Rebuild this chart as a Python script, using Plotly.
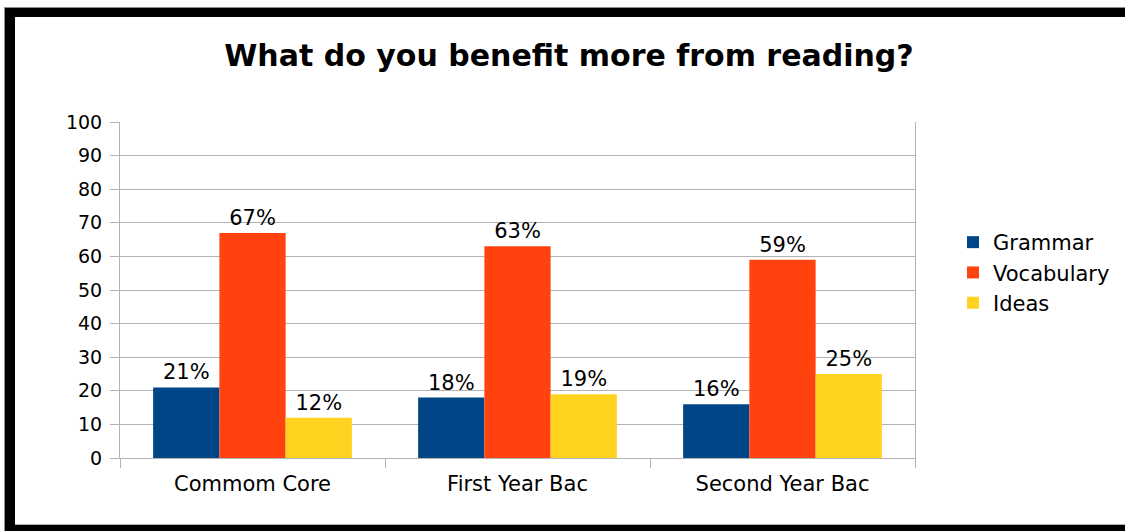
import plotly.graph_objects as go

# Survey results: share of students per benefit, by school level
categories = ["Commom Core", "First Year Bac", "Second Year Bac"]
grammar = [21, 18, 16]
vocabulary = [67, 63, 59]
ideas = [12, 19, 25]

series = [
    ("Grammar", grammar, "#004586"),
    ("Vocabulary", vocabulary, "#ff420e"),
    ("Ideas", ideas, "#ffd320"),
]

W, H = 1125, 531
L, R, T, B = 120, 210, 122, 73
FONT = "DejaVu Sans, Verdana, sans-serif"

fig = go.Figure()
for name, vals, color in series:
    fig.add_trace(go.Bar(
        name=name,
        x=categories,
        y=vals,
        marker=dict(color=color, line=dict(width=0)),
        text=[f"{v}%" for v in vals],
        textposition="outside",
        textfont=dict(family=FONT, size=21, color="#000000"),
        cliponaxis=False,
    ))


def px_x(p):
    return (p - L) / (W - L - R)


def px_y(p):
    return (H - B - p) / (H - T - B)


# Frame around the chart: thin grey edge plus heavy black band
frame = [
    # grey hairlines
    (4, 7, W + 5, 8, "#8c8c8c"),
    (4, 7, 5, H + 5, "#8c8c8c"),
    (15, 524, W + 5, 525, "#b0b0b0"),
    # black bands
    (5, 8, W + 5, 17, "#000000"),
    (5, 8, 15, H + 5, "#000000"),
    (5, 525, W + 5, H + 5, "#000000"),
]
shapes = []
for x0, y0, x1, y1, c in frame:
    shapes.append(dict(
        type="rect", xref="paper", yref="paper",
        x0=px_x(x0), x1=px_x(x1), y0=px_y(y1), y1=px_y(y0),
        fillcolor=c, line=dict(width=0), layer="above",
    ))

fig.update_layout(
    width=W, height=H,
    margin=dict(l=L, r=R, t=T, b=B, pad=0, autoexpand=False),
    paper_bgcolor="#ffffff",
    plot_bgcolor="#ffffff",
    font=dict(family=FONT, size=19, color="#000000"),
    title=dict(
        text="<b>What do you benefit more from reading?</b>",
        font=dict(family=FONT, size=30, color="#000000"),
        x=569 / W, xanchor="center", xref="container",
        y=1 - 55 / H, yanchor="middle", yref="container",
    ),
    barmode="group",
    bargap=0.25,
    bargroupgap=0,
    showlegend=True,
    legend=dict(
        xref="container", yref="container",
        x=953 / W, xanchor="left",
        y=1 - 222 / H, yanchor="top",
        font=dict(family=FONT, size=21, color="#000000"),
        bgcolor="rgba(0,0,0,0)",
        itemwidth=30,
        tracegroupgap=0,
    ),
    shapes=shapes,
)

fig.update_xaxes(
    type="category",
    showgrid=False,
    tickson="boundaries",
    ticks="outside", ticklen=9, tickcolor="#b3b3b3", tickwidth=1,
    showline=True, linecolor="#b3b3b3", linewidth=1,
    tickfont=dict(family=FONT, size=21, color="#000000"),
    ticklabelstandoff=7,
)
fig.update_yaxes(
    range=[0, 100],
    dtick=10,
    showgrid=True, gridcolor="#b3b3b3", gridwidth=1,
    zeroline=False,
    ticks="outside", ticklen=9, tickcolor="#b3b3b3", tickwidth=1,
    showline=True, mirror=True, linecolor="#b3b3b3", linewidth=1,
    tickfont=dict(family=FONT, size=19, color="#000000"),
    ticklabelstandoff=4,
)

fig.write_html("out.html")
